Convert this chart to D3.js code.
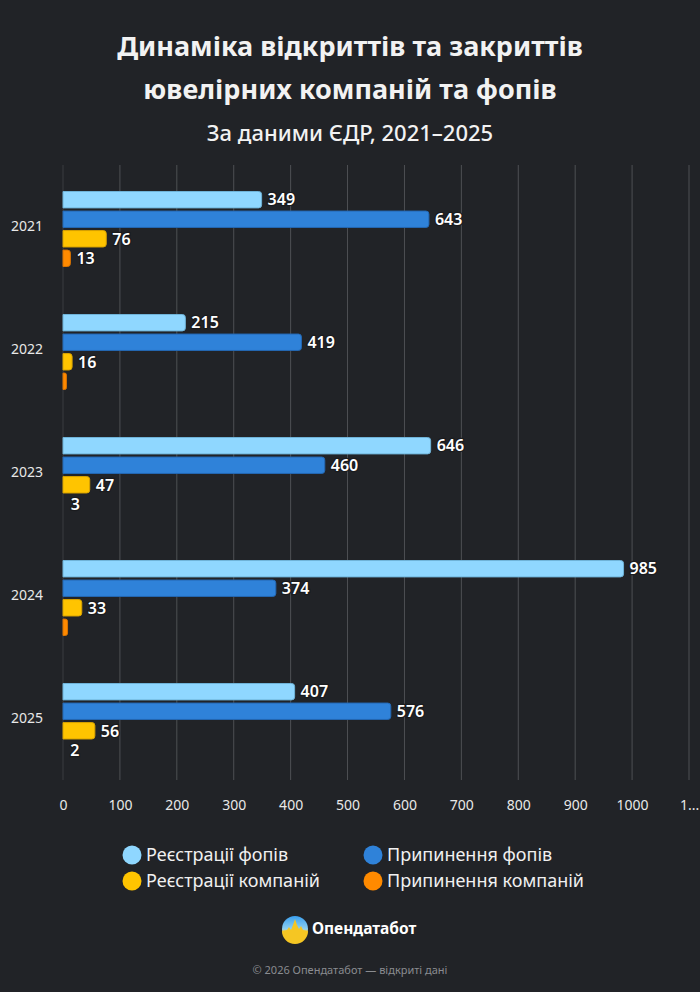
<!DOCTYPE html>
<html>
<head>
<meta charset="utf-8">
<script src="https://cdn.jsdelivr.net/npm/d3@7"></script>
<style>
  html, body { margin: 0; padding: 0; background: #212327; }
  svg { display: block; }
</style>
</head>
<body>
<div id="chart-area"></div>
<script>
// DATA
const years = ["2021", "2022", "2023", "2024", "2025"]
const seriesNames = ["Реєстрації фопів", "Припинення фопів", "Реєстрації компаній", "Припинення компаній"]
const regFop = [349, 215, 646, 985, 407]
const stopFop = [643, 419, 460, 374, 576]
const regComp = [76, 16, 47, 33, 56]
const stopComp = [13, 6, 3, 8, 2]
// labels not shown on the picture for these points
const stopCompLabel = [true, false, true, false, true]
const xTicks = [0, 100, 200, 300, 400, 500, 600, 700, 800, 900, 1000, 1100]
const xTickLabels = ["0", "100", "200", "300", "400", "500", "600", "700", "800", "900", "1000", "1..."]

const COLORS = ["#8fd7ff", "#2f82d9", "#ffc400", "#ff8a00"]
const STROKES = ["#6fb3d8", "#2468b3", "#d9a300", "#d97300"]

const W = 700, H = 992
const MARGIN = { LEFT: 63, RIGHT: 11, TOP: 165, BOTTOM: 212 }
const WIDTH = W - MARGIN.LEFT - MARGIN.RIGHT
const HEIGHT = H - MARGIN.TOP - MARGIN.BOTTOM
const FONT = "'Noto Sans', 'Open Sans', sans-serif"

const svg = d3.select("#chart-area").append("svg")
  .attr("width", W)
  .attr("height", H)
  .style("font-family", FONT)

svg.append("rect").attr("width", W).attr("height", H).attr("fill", "#212327")

// TITLE
svg.append("text")
  .attr("x", W / 2).attr("y", 56)
  .attr("text-anchor", "middle")
  .attr("fill", "#f2f2f2").attr("font-size", 27).attr("font-weight", "bold")
  .text("Динаміка відкриттів та закриттів")
svg.append("text")
  .attr("x", W / 2).attr("y", 99)
  .attr("text-anchor", "middle")
  .attr("fill", "#f2f2f2").attr("font-size", 27).attr("font-weight", "bold")
  .text("ювелірних компаній та фопів")
svg.append("text")
  .attr("x", W / 2).attr("y", 141)
  .attr("text-anchor", "middle")
  .attr("fill", "#f2f2f2").attr("font-size", 22).attr("font-weight", 500)
  .text("За даними ЄДР, 2021–2025")

const g = svg.append("g")
  .attr("transform", `translate(${MARGIN.LEFT}, ${MARGIN.TOP})`)

// SCALES
const xScale = d3.scaleLinear().domain([0, 1100]).range([0, WIDTH])
const yScale = d3.scaleBand().domain(years).range([0, HEIGHT])
const ySub = d3.scaleBand().domain(d3.range(4)).range([-35, 40]).paddingInner(0.16)

// GRID
g.append("g")
  .selectAll("line")
  .data(xTicks)
  .enter().append("line")
  .attr("x1", d => xScale(d)).attr("x2", d => xScale(d))
  .attr("y1", 0).attr("y2", HEIGHT)
  .attr("stroke", d => d === 0 ? "#3a3c40" : "#4e5054")
  .attr("stroke-width", 1)

// X-AXIS
const xAxis = d3.axisBottom(xScale)
  .tickValues(xTicks)
  .tickSize(0)
  .tickPadding(20)
  .tickFormat((d, i) => xTickLabels[i])
const xg = g.append("g")
  .attr("transform", `translate(0, ${HEIGHT})`)
  .call(xAxis)
xg.select(".domain").remove()
xg.selectAll("text")
  .attr("fill", "#e8e8e8").attr("font-size", 14).attr("font-family", FONT)

// Y-AXIS
const yAxis = d3.axisLeft(yScale).tickSize(0).tickPadding(20)
const yg = g.append("g").call(yAxis)
yg.select(".domain").remove()
yg.selectAll("text")
  .attr("fill", "#e8e8e8").attr("font-size", 14).attr("font-family", FONT)
  .attr("dy", "0.32em")

// BARS
const series = [regFop, stopFop, regComp, stopComp]
const rows = []
years.forEach((y, i) => {
  series.forEach((s, k) => {
    rows.push({ year: y, k: k, value: s[i], label: k === 3 ? stopCompLabel[i] : true })
  })
})

const barY = d => yScale(d.year) + yScale.bandwidth() / 2 + ySub(d.k)
const barH = ySub.bandwidth()

g.selectAll(".bar")
  .data(rows.filter(d => d.value > 3))
  .enter().append("path")
  .attr("class", "bar")
  .attr("d", d => {
    const w = Math.max(xScale(d.value), 0)
    const r = Math.min(3, w / 2)
    const y0 = barY(d), h = barH
    return `M0,${y0}H${w - r}Q${w},${y0} ${w},${y0 + r}V${y0 + h - r}Q${w},${y0 + h} ${w - r},${y0 + h}H0Z`
  })
  .attr("fill", d => COLORS[d.k])
  .attr("stroke", d => STROKES[d.k])
  .attr("stroke-width", 1)

// LABELS
g.selectAll(".lbl")
  .data(rows.filter(d => d.label))
  .enter().append("text")
  .attr("class", "lbl")
  .attr("x", d => xScale(d.value) + 6)
  .attr("y", d => barY(d) + barH / 2)
  .attr("dy", "0.36em")
  .attr("fill", "#ffffff")
  .attr("stroke", "#1a1b1e").attr("stroke-width", 2.5)
  .attr("paint-order", "stroke")
  .attr("font-size", 16).attr("font-weight", 600)
  .text(d => d.value)

// LEGEND
const legend = svg.append("g")
const legPos = [[132, 855], [373, 855], [132, 881], [373, 881]]
seriesNames.forEach((name, k) => {
  const [lx, ly] = legPos[k]
  legend.append("circle")
    .attr("cx", lx).attr("cy", ly).attr("r", 9.5)
    .attr("fill", COLORS[k])
  legend.append("text")
    .attr("x", lx + 14).attr("y", ly).attr("dy", "0.35em")
    .attr("fill", "#f0f0f0").attr("font-size", 18)
    .text(name)
})

// LOGO
const defs = svg.append("defs")
const grad = defs.append("linearGradient").attr("id", "logoGrad")
  .attr("x1", 0).attr("y1", 0).attr("x2", 0).attr("y2", 1)
grad.append("stop").attr("offset", "0%").attr("stop-color", "#3aa0f0")
grad.append("stop").attr("offset", "50%").attr("stop-color", "#8fd0f0")
grad.append("stop").attr("offset", "60%").attr("stop-color", "#f5d35a")
grad.append("stop").attr("offset", "100%").attr("stop-color", "#f2b400")
const logo = svg.append("g").attr("transform", "translate(295, 929)")
logo.append("circle").attr("r", 13).attr("fill", "url(#logoGrad)")
logo.append("path")
  .attr("d", "M-13,2 L-8,1 L-6,-2 L-4,1 L-2,-4 L0,-10 L2,-4 L4,0 L6,-3 L8,1 L13,2 A13,13 0 0 1 -13,2 Z")
  .attr("fill", "#f5c623")
logo.append("text")
  .attr("x", 17).attr("y", 0).attr("dy", "0.35em")
  .attr("fill", "#ffffff").attr("font-size", 15.5).attr("font-weight", "bold")
  .text("Опендатабот")

// FOOTER
svg.append("text")
  .attr("x", W / 2).attr("y", 974)
  .attr("text-anchor", "middle")
  .attr("fill", "#8a8c90").attr("font-size", 11)
  .text("© 2026 Опендатабот — відкриті дані")
</script>
</body>
</html>
